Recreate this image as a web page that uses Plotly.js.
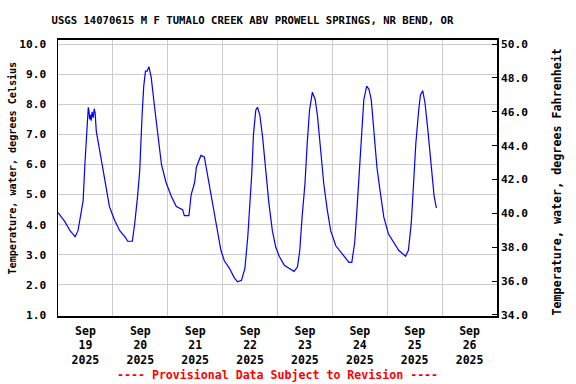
<!DOCTYPE html>
<html>
<head>
<meta charset="utf-8">
<script src="https://cdn.plot.ly/plotly-3.0.1.min.js"></script>
<style>html,body{margin:0;padding:0;background:#fff}#chart{width:576px;height:384px}</style>
</head>
<body>
<div id="chart"></div>
<script>
// Water temperature, degrees Celsius
var times = [
"2025-09-19 00:00","2025-09-19 03:00","2025-09-19 05:15","2025-09-19 07:30","2025-09-19 08:45",
"2025-09-19 10:15","2025-09-19 11:00","2025-09-19 11:45","2025-09-19 12:30","2025-09-19 13:15",
"2025-09-19 13:30","2025-09-19 13:50","2025-09-19 14:10","2025-09-19 14:30","2025-09-19 14:55",
"2025-09-19 15:25","2025-09-19 15:50","2025-09-19 16:15","2025-09-19 16:45","2025-09-19 18:15",
"2025-09-19 19:45","2025-09-19 21:15","2025-09-19 22:30","2025-09-20 00:45","2025-09-20 03:00",
"2025-09-20 05:15","2025-09-20 06:30","2025-09-20 08:30","2025-09-20 09:30","2025-09-20 10:45",
"2025-09-20 11:45","2025-09-20 12:45","2025-09-20 13:30","2025-09-20 14:15","2025-09-20 15:00",
"2025-09-20 15:45","2025-09-20 16:15","2025-09-20 16:45","2025-09-20 18:15","2025-09-20 19:45",
"2025-09-20 21:15","2025-09-20 23:15","2025-09-21 01:30","2025-09-21 03:45","2025-09-21 06:30",
"2025-09-21 07:15","2025-09-21 09:15","2025-09-21 10:15","2025-09-21 11:45","2025-09-21 12:30",
"2025-09-21 13:30","2025-09-21 14:30","2025-09-21 16:00","2025-09-21 17:30","2025-09-21 19:00",
"2025-09-21 20:30","2025-09-21 21:45","2025-09-21 23:15","2025-09-22 00:45","2025-09-22 03:00",
"2025-09-22 05:00","2025-09-22 06:30","2025-09-22 08:15","2025-09-22 09:45","2025-09-22 11:00",
"2025-09-22 12:00","2025-09-22 12:45","2025-09-22 13:30","2025-09-22 14:30","2025-09-22 15:15",
"2025-09-22 16:15","2025-09-22 17:30","2025-09-22 19:00","2025-09-22 20:15","2025-09-22 21:45",
"2025-09-22 23:15","2025-09-23 00:45","2025-09-23 03:00","2025-09-23 05:00","2025-09-23 07:15",
"2025-09-23 08:45","2025-09-23 09:45","2025-09-23 10:45","2025-09-23 12:00","2025-09-23 13:00",
"2025-09-23 14:00","2025-09-23 15:15","2025-09-23 16:30","2025-09-23 17:30","2025-09-23 19:00",
"2025-09-23 20:15","2025-09-23 21:45","2025-09-23 23:15","2025-09-24 01:30","2025-09-24 03:30",
"2025-09-24 05:45","2025-09-24 07:15","2025-09-24 08:30","2025-09-24 09:45","2025-09-24 10:45",
"2025-09-24 11:45","2025-09-24 12:45","2025-09-24 13:45","2025-09-24 15:00","2025-09-24 16:00",
"2025-09-24 17:00","2025-09-24 18:00","2025-09-24 19:30","2025-09-24 21:00","2025-09-24 22:30",
"2025-09-25 00:30","2025-09-25 02:45","2025-09-25 05:00","2025-09-25 06:30","2025-09-25 08:00",
"2025-09-25 09:15","2025-09-25 10:30","2025-09-25 11:30","2025-09-25 12:30","2025-09-25 13:45",
"2025-09-25 14:30","2025-09-25 15:30","2025-09-25 16:30","2025-09-25 17:45","2025-09-25 18:45",
"2025-09-25 19:45","2025-09-25 20:30","2025-09-25 21:30"
];
var tempC = [
4.4,4.1,3.8,3.6,3.8,
4.4,4.8,6.0,6.9,7.9,
7.8,7.5,7.65,7.45,7.75,
7.55,7.85,7.7,7.1,6.5,
5.8,5.15,4.6,4.15,3.8,
3.6,3.45,3.45,4.0,4.9,
5.8,7.6,8.6,9.1,9.1,
9.25,9.0,8.9,7.9,6.9,
6.0,5.4,4.95,4.6,4.5,
4.3,4.3,5.0,5.4,5.9,
6.1,6.3,6.25,5.6,4.95,
4.25,3.7,3.15,2.8,2.55,
2.25,2.1,2.15,2.55,3.6,
4.7,5.7,7.0,7.8,7.9,
7.65,6.9,5.6,4.7,3.8,
3.25,2.95,2.65,2.55,2.45,
2.6,3.15,4.25,5.35,6.7,
7.8,8.4,8.15,7.6,6.5,
5.35,4.5,3.8,3.3,3.1,
2.9,2.75,2.75,3.4,4.5,
5.7,7.25,8.15,8.6,8.5,
8.15,7.15,5.9,5.05,4.25,
3.7,3.4,3.15,3.05,2.95,
3.15,4.05,5.35,6.7,7.8,
8.3,8.45,8.05,7.15,6.25,
5.35,4.95,4.55
];
var gridDays = ["2025-09-20","2025-09-21","2025-09-22","2025-09-23","2025-09-24","2025-09-25","2025-09-26"];
var labelDays = ["2025-09-19 12:00","2025-09-20 12:00","2025-09-21 12:00","2025-09-22 12:00","2025-09-23 12:00","2025-09-24 12:00","2025-09-25 12:00","2025-09-26 12:00"];
var labelText = ["Sep<br>19<br>2025","Sep<br>20<br>2025","Sep<br>21<br>2025","Sep<br>22<br>2025","Sep<br>23<br>2025","Sep<br>24<br>2025","Sep<br>25<br>2025","Sep<br>26<br>2025"];
var cTicks = [1,2,3,4,5,6,7,8,9,10];
var fTicks = [34,36,38,40,42,44,46,48,50];

var FONT = "DejaVu Sans Mono";
var xr = ["2025-09-19 00:00","2025-09-27 00:00"];

var traces = [
  {x: times, y: tempC, type: "scatter", mode: "lines", line: {color: "#0000ff", width: 1.2}, xaxis: "x", yaxis: "y", hoverinfo: "skip"},
  {x: [xr[0]], y: [fTicks[0]], type: "scatter", mode: "markers", marker: {opacity: 0}, xaxis: "x2", yaxis: "y2", hoverinfo: "skip"}
];

var layout = {
  width: 576, height: 384,
  margin: {l: 58, r: 79, t: 40, b: 68, pad: 0},
  paper_bgcolor: "#fff", plot_bgcolor: "#fff",
  showlegend: false,
  font: {family: FONT, color: "#000", size: 11},
  title: {text: "<b>USGS 14070615 M F TUMALO CREEK ABV PROWELL SPRINGS, NR BEND, OR</b>",
          font: {family: FONT, size: 10.6, color: "#000"},
          xref: "paper", x: 0.443, xanchor: "center", yref: "container", y: 0.947, yanchor: "middle"},
  xaxis: {type: "date", range: xr, tickvals: gridDays, showticklabels: false, ticks: "",
          showgrid: true, gridcolor: "#cccccc", gridwidth: 1, zeroline: false,
          showline: true, linecolor: "#000", linewidth: 2, mirror: true},
  xaxis2: {type: "date", overlaying: "x", range: xr, tickvals: labelDays, ticktext: labelText,
           side: "bottom", showgrid: false, ticks: "", showline: false, zeroline: false,
           ticklabelstandoff: 6, tickfont: {family: FONT, size: 11.5, color: "#000", weight: "bold"}},
  yaxis: {range: [0.967, 10.133], tickvals: cTicks, ticktext: cTicks.map(function(v){return v.toFixed(1);}),
          showgrid: true, gridcolor: "#cccccc", gridwidth: 1, zeroline: false, ticks: "",
          ticklabelstandoff: 8, tickfont: {family: FONT, size: 11.2, color: "#000", weight: "bold"},
          showline: true, linecolor: "#000", linewidth: 1.5, mirror: true},
  yaxis2: {overlaying: "y", side: "right", anchor: "x", range: [33.94, 50.236], tickvals: fTicks,
           ticktext: fTicks.map(function(v){return v.toFixed(1);}),
           showgrid: false, zeroline: false, ticks: "inside", ticklen: 5, tickcolor: "#000", tickwidth: 1,
           ticklabelstandoff: 3, tickfont: {family: FONT, size: 11.2, color: "#000", weight: "bold"}},
  annotations: [
    {text: "<b>Temperature, water, degrees Celsius</b>", textangle: -90, xref: "paper", yref: "paper",
     x: (12 - 58) / 439, y: (316 - 168.5) / 276, xanchor: "center", yanchor: "middle", showarrow: false,
     font: {family: FONT, size: 10.1, color: "#000"}},
    {text: "<b>Temperature, water, degrees Fahrenheit</b>", textangle: -90, xref: "paper", yref: "paper",
     x: (556 - 58) / 439, y: (316 - 182.5) / 276, xanchor: "center", yanchor: "middle", showarrow: false,
     font: {family: FONT, size: 11.7, color: "#000"}},
    {text: "<b>---- Provisional Data Subject to Revision ----</b>", xref: "paper", yref: "paper",
     x: 0.5, y: (316 - 375) / 276, xanchor: "center", yanchor: "middle", showarrow: false,
     font: {family: FONT, size: 11.6, color: "#ff0000"}}
  ]
};

Plotly.newPlot("chart", traces, layout, {displayModeBar: false, staticPlot: true});
</script>
</body>
</html>
